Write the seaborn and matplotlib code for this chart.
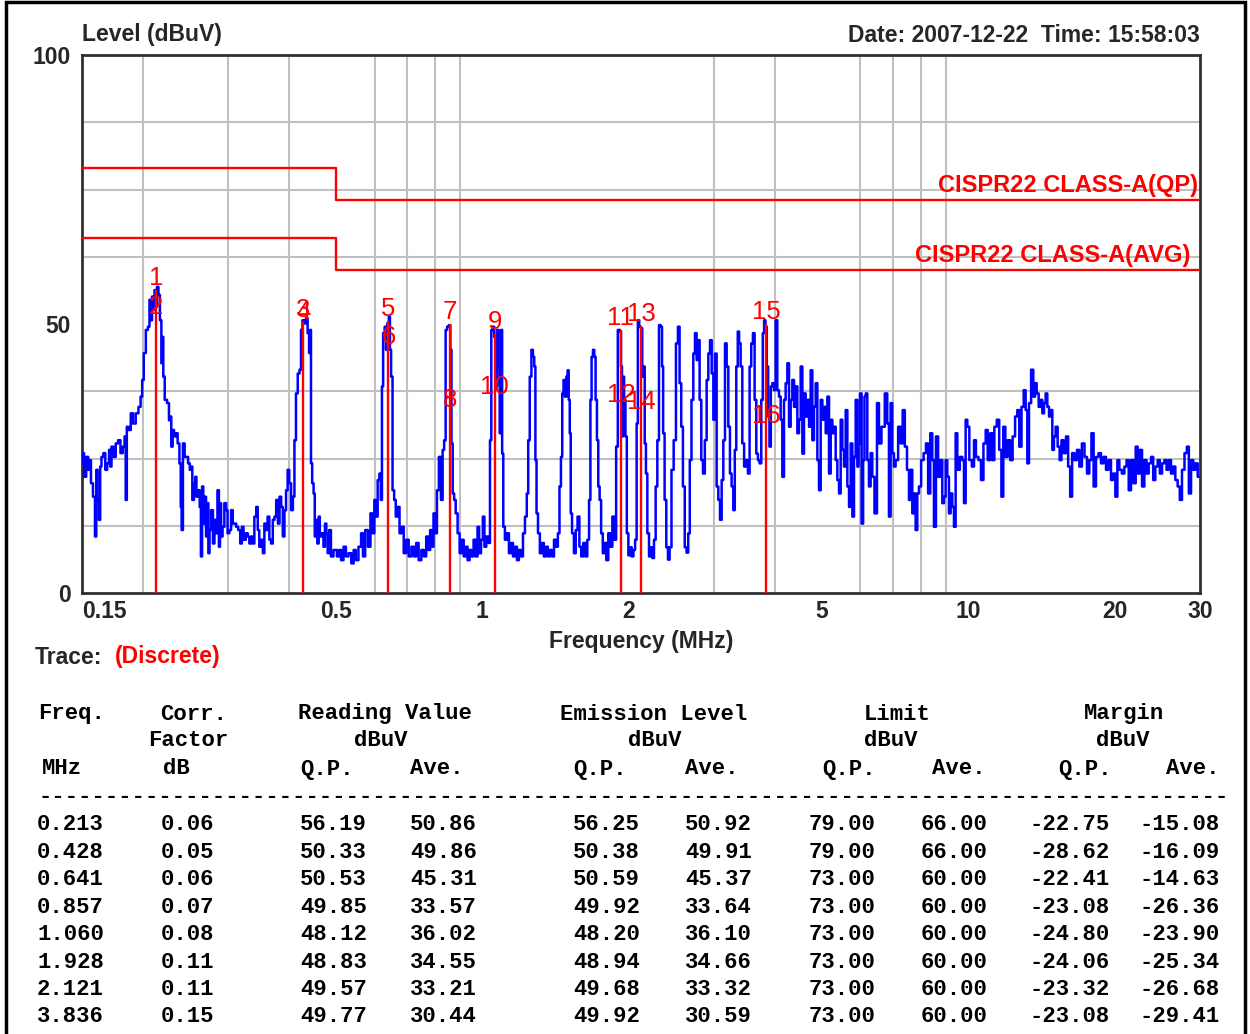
import matplotlib
matplotlib.use("Agg")
import matplotlib.pyplot as plt
import seaborn as sns
import pandas as pd
from matplotlib.patches import Rectangle
from matplotlib.ticker import FixedLocator, NullFormatter

# ---------------- data ----------------
trace_seg_a = [(0.150,24.1),(0.151,26.0),(0.152,21.6),(0.154,25.3),(0.155,22.9),(0.156,24.7),(0.157,20.4),(0.159,17.9),(0.160,10.5),(0.161,22.9),(0.162,17.3),(0.163,13.6),(0.164,23.5),(0.165,25.3),(0.167,26.0),(0.168,22.9),(0.170,24.1),(0.171,26.6),(0.172,23.5),(0.173,27.2),(0.175,25.3),(0.177,27.8),(0.179,28.4),(0.181,26.0),(0.183,27.2),(0.184,29.1),(0.185,17.3),(0.186,30.9),(0.188,30.3),(0.190,33.4),(0.192,31.5),(0.195,33.4),(0.197,34.6),(0.199,36.5),(0.200,39.6),(0.202,44.6),(0.204,48.9),(0.206,49.5),(0.207,54.5),(0.208,50.7),(0.210,55.1),(0.211,52.6),(0.212,56.3),(0.213,53.2),(0.215,56.9),(0.216,55.4),(0.218,50.7),(0.219,42.7),(0.220,47.6),(0.221,40.2),(0.223,35.9),(0.226,35.3),(0.227,32.1),(0.228,32.8),(0.230,27.2),(0.231,30.3),(0.233,29.1),(0.235,29.7),(0.237,27.8),(0.239,24.1),(0.240,16.0),(0.241,11.7),(0.243,27.8),(0.245,25.3),(0.247,25.3),(0.249,24.1),(0.251,22.9),(0.252,23.5),(0.254,17.3),(0.256,20.4),(0.257,21.6),(0.259,17.9),(0.261,19.1),(0.263,16.0),(0.264,6.8),(0.266,19.8),(0.267,12.9),(0.269,17.9),(0.271,10.5),(0.272,16.7),(0.274,7.4),(0.275,11.7),(0.278,15.4),(0.280,9.2),(0.282,13.6),(0.284,11.1),(0.286,19.1),(0.288,8.6),(0.289,16.7),(0.291,10.5),(0.293,12.3),(0.296,16.7),(0.298,15.4),(0.300,11.1),(0.303,11.7),(0.305,15.4),(0.308,12.9),(0.310,12.9),(0.313,12.3),(0.316,11.7),(0.319,9.2),(0.321,12.3),(0.324,9.9),(0.328,11.1),(0.330,10.5),(0.333,9.2),(0.336,10.5),(0.338,9.2),(0.341,14.2),(0.344,16.0),(0.346,11.7),(0.349,8.6),(0.352,9.9),(0.355,7.4),(0.357,12.9),(0.360,11.7),(0.363,14.2),(0.366,9.9),(0.369,9.2),(0.372,13.6),(0.375,14.2),(0.378,17.3),(0.381,12.9),(0.384,17.9),(0.387,16.0),(0.390,10.5),(0.393,15.4),(0.396,19.1),(0.399,22.9),(0.402,20.4),(0.406,15.4),(0.409,17.9),(0.412,28.4),(0.415,37.1),(0.419,40.8),(0.422,41.5),(0.425,48.9),(0.428,50.7),(0.432,50.1),(0.435,51.1),(0.439,48.3),(0.441,44.6),(0.443,48.9),(0.445,24.1),(0.448,20.4),(0.451,18.5),(0.453,10.5),(0.456,13.6),(0.459,9.2),(0.462,14.2),(0.464,10.5),(0.469,11.1),(0.473,8.6),(0.476,12.9),(0.479,11.1),(0.482,7.4),(0.486,11.7),(0.490,6.8),(0.498,8.0),(0.506,6.8)]

trace_seg_b = [(0.509,8.0),(0.515,6.1),(0.521,8.6),(0.527,6.8),(0.534,7.4),(0.541,5.5),(0.546,8.0),(0.552,6.1),(0.560,8.6),(0.566,11.1),(0.570,6.8),(0.578,11.7),(0.585,8.6),(0.592,14.8),(0.597,11.1),(0.602,17.3),(0.606,14.2),(0.612,21.0),(0.616,22.2),(0.620,17.3),(0.623,38.4),(0.627,48.3),(0.632,49.5),(0.635,45.2),(0.640,50.1),(0.644,51.4),(0.647,45.2),(0.651,40.2),(0.656,19.1),(0.661,17.3),(0.666,14.2),(0.672,16.0),(0.679,11.1),(0.685,12.3),(0.693,7.4),(0.701,9.9),(0.710,6.8),(0.719,8.6),(0.727,6.8),(0.735,9.3),(0.744,6.1),(0.754,8.0),(0.762,6.8),(0.771,10.5),(0.778,8.0),(0.784,11.7),(0.790,8.6),(0.797,14.8),(0.803,11.1),(0.810,19.1),(0.818,25.3),(0.826,17.3),(0.831,26.6),(0.838,28.4),(0.843,48.9),(0.850,49.5),(0.857,49.8),(0.862,45.2),(0.866,27.8),(0.872,18.5),(0.878,17.3),(0.885,14.8),(0.894,11.1),(0.902,7.4),(0.911,9.9),(0.920,6.8),(0.928,8.6),(0.937,6.1),(0.946,8.0),(0.955,6.8),(0.964,9.9),(0.974,6.8),(0.981,12.3),(0.989,7.4),(0.999,9.9),(1.006,14.2),(1.014,8.6),(1.024,10.5),(1.034,9.3),(1.040,28.4),(1.047,48.9),(1.055,49.5),(1.061,47.6),(1.068,38.4),(1.077,48.9),(1.083,42.1),(1.089,29.7),(1.096,48.9),(1.101,25.9),(1.108,12.3),(1.118,9.9),(1.129,11.1),(1.140,7.4),(1.151,9.3),(1.162,6.8),(1.173,8.6),(1.184,6.1),(1.195,8.0),(1.207,6.8),(1.218,11.1),(1.230,14.2),(1.239,18.5),(1.247,28.4),(1.257,40.2),(1.267,45.2),(1.275,43.9),(1.283,42.1),(1.289,24.7),(1.297,14.8),(1.307,11.1),(1.320,7.4),(1.332,9.3),(1.345,6.8),(1.358,8.6),(1.371,6.8),(1.384,8.0),(1.398,6.8),(1.411,9.9),(1.425,8.6),(1.436,11.1),(1.447,19.8),(1.456,25.3),(1.465,37.1),(1.474,39.6),(1.484,36.5),(1.494,40.2),(1.502,41.4),(1.510,35.9),(1.517,29.7),(1.524,14.8),(1.536,11.1),(1.551,7.4),(1.563,11.7),(1.578,14.2),(1.590,8.6),(1.606,6.8),(1.621,9.3),(1.637,6.8),(1.652,9.9),(1.665,17.3),(1.673,35.9),(1.684,43.9),(1.695,45.2),(1.705,43.9),(1.716,35.9),(1.727,28.4),(1.738,19.8),(1.749,17.3),(1.763,11.1),(1.777,7.4),(1.791,9.3),(1.808,6.1),(1.825,11.1),(1.843,8.6),(1.861,14.2),(1.878,9.9),(1.893,27.2),(1.908,48.9)]

trace_seg_c = [(1.913,48.9),(1.925,48.6),(1.934,42.1),(1.943,29.1),(1.952,40.2),(1.964,35.9),(1.977,29.1),(1.990,11.1),(2.006,7.0),(2.022,8.5),(2.038,6.8),(2.055,8.0),(2.071,9.9),(2.085,31.5),(2.095,50.7),(2.112,49.5),(2.129,49.2),(2.139,40.2),(2.152,42.1),(2.166,27.8),(2.177,22.2),(2.195,11.1),(2.212,6.8),(2.230,8.5),(2.247,6.5),(2.265,9.9),(2.283,19.8),(2.301,28.4),(2.319,49.8),(2.338,49.5),(2.349,42.1),(2.363,29.7),(2.382,17.3),(2.401,8.5),(2.420,6.2),(2.439,8.5),(2.463,22.9),(2.490,28.4),(2.517,46.4),(2.537,49.5),(2.557,39.0),(2.577,30.9),(2.598,19.8),(2.622,8.5),(2.643,7.5),(2.664,11.1),(2.682,24.7),(2.707,35.9),(2.729,44.5),(2.750,48.3),(2.772,43.3),(2.789,47.0),(2.812,35.9),(2.834,24.7),(2.857,22.2),(2.884,28.4),(2.907,39.6),(2.930,44.5),(2.954,47.0),(2.977,40.8),(3.001,32.2),(3.024,44.5),(3.048,19.8),(3.072,17.3),(3.097,13.6),(3.121,21.0),(3.146,28.4),(3.171,46.4),(3.196,42.1),(3.221,30.9),(3.246,22.2),(3.272,19.8),(3.298,15.4),(3.319,26.6),(3.345,42.1),(3.366,48.6),(3.388,46.4),(3.415,42.1),(3.442,27.8),(3.474,23.5),(3.507,24.7),(3.535,22.2),(3.563,42.1),(3.591,46.4),(3.620,48.3),(3.649,35.9),(3.678,25.9),(3.707,24.7),(3.736,24.1),(3.766,35.9),(3.790,48.3),(3.814,50.7),(3.838,49.5),(3.863,42.1),(3.887,32.8),(3.912,27.2),(3.937,38.4),(3.968,39.0),(3.999,37.7),(4.031,50.7),(4.063,37.7),(4.096,36.5),(4.128,32.2),(4.161,21.6),(4.194,35.9),(4.227,39.0),(4.261,42.7),(4.295,30.9),(4.329,35.9),(4.363,39.6),(4.398,34.6),(4.433,38.4),(4.468,29.7),(4.503,32.2),(4.539,42.1),(4.575,25.9),(4.611,37.1),(4.648,32.8),(4.685,35.9),(4.722,30.9),(4.759,41.4),(4.797,28.4),(4.835,34.6),(4.874,39.0),(4.912,24.7),(4.951,19.1),(4.991,35.9),(5.030,32.2),(5.070,34.6),(5.110,29.7),(5.151,36.5),(5.192,22.2),(5.233,32.2),(5.274,29.7),(5.316,30.9),(5.358,24.7),(5.401,21.0),(5.443,18.5),(5.487,32.2),(5.530,26.6),(5.574,23.5),(5.618,34.0),(5.663,19.8),(5.708,16.0),(5.753,27.8),(5.798,14.2),(5.844,25.3),(5.891,35.9),(5.937,23.5)]

trace_seg_d = [(5.964,27.8),(6.011,37.1),(6.059,12.9),(6.098,24.7),(6.136,36.5),(6.175,37.1),(6.224,24.7),(6.273,19.8),(6.323,26.0),(6.373,21.6),(6.455,14.8),(6.526,35.3),(6.578,27.8),(6.682,30.9),(6.788,37.1),(6.842,31.5),(6.897,14.2),(6.951,35.3),(7.006,26.0),(7.062,23.5),(7.118,24.7),(7.232,30.9),(7.290,27.8),(7.371,34.0),(7.441,27.2),(7.524,22.9),(7.583,17.3),(7.643,22.9),(7.703,14.8),(7.765,18.5),(7.826,11.7),(7.888,18.5),(7.951,19.8),(8.052,24.7),(8.141,26.0),(8.232,27.8),(8.310,18.5),(8.402,29.7),(8.469,24.7),(8.536,12.3),(8.631,29.1),(8.713,21.6),(8.810,24.7),(8.881,16.7),(8.951,17.9),(9.021,24.7),(9.093,21.6),(9.166,14.8),(9.239,18.5),(9.312,16.0),(9.386,12.3),(9.460,29.7),(9.536,22.9),(9.688,25.3),(9.764,24.7),(9.842,16.7),(9.920,32.2),(9.999,30.9),(10.11,24.7),(10.24,23.5),(10.32,28.4),(10.43,25.3),(10.57,24.7),(10.68,21.0),(10.82,27.8),(10.91,30.3),(11.03,24.7),(11.17,29.7),(11.26,24.7),(11.38,30.9),(11.52,32.2),(11.65,26.6),(11.76,17.9),(11.86,30.9),(11.99,25.3),(12.12,28.4),(12.28,24.7),(12.41,29.1),(12.57,32.8),(12.67,34.0),(12.81,27.2),(12.94,34.6),(13.08,37.7),(13.18,34.0),(13.29,24.1),(13.39,35.3),(13.56,41.5),(13.67,36.5),(13.78,39.0),(13.89,37.1),(14.04,34.6),(14.15,35.9),(14.27,33.4),(14.38,35.3),(14.49,37.1),(14.61,34.6),(14.73,32.8),(14.84,34.0),(14.96,26.6),(15.07,29.1),(15.20,30.9),(15.36,27.2),(15.49,24.7),(15.63,28.4),(15.81,26.0),(15.98,29.1),(16.14,23.5),(16.29,17.9),(16.44,26.0),(16.65,24.7),(16.84,26.6),(17.03,23.5),(17.25,27.8),(17.46,25.3),(17.66,22.2),(17.85,24.7),(18.02,29.7),(18.22,19.8),(18.43,25.3),(18.66,26.0),(18.87,24.1),(19.11,25.3),(19.32,22.9),(19.57,24.7),(19.78,21.0),(19.97,22.2),(20.20,17.9),(20.36,24.7),(20.58,22.9),(20.85,22.2),(21.08,23.5),(21.28,24.7),(21.52,19.1),(21.75,24.7),(22.03,20.4),(22.21,27.2),(22.45,22.2),(22.67,26.6),(22.92,19.8),(23.17,24.7),(23.39,22.2),(23.66,24.1),(23.92,25.3),(24.14,21.0),(24.41,23.5),(24.68,24.7),(24.92,22.2),(25.20,24.1),(25.48,24.7),(25.72,22.9),(26.01,24.7),(26.29,22.2),(26.54,23.5),(26.84,21.0),(27.13,19.8),(27.39,17.3),(27.70,22.9),(28.05,26.0),(28.32,27.2),(28.59,18.5),(28.92,24.7),(29.20,22.9),(29.51,24.1),(29.84,21.6)]

limit_freq = [0.15, 0.5, 0.5, 30]
limit_qp = [79, 79, 73, 73]
limit_avg = [66, 66, 60, 60]

table_freq = [0.213, 0.428, 0.641, 0.857, 1.060, 1.928, 2.121, 3.836]
corr_factor = [0.06, 0.05, 0.06, 0.07, 0.08, 0.11, 0.11, 0.15]
read_qp = [56.19, 50.33, 50.53, 49.85, 48.12, 48.83, 49.57, 49.77]
read_ave = [50.86, 49.86, 45.31, 33.57, 36.02, 34.55, 33.21, 30.44]
emis_qp = [56.25, 50.38, 50.59, 49.92, 48.20, 48.94, 49.68, 49.92]
emis_ave = [50.92, 49.91, 45.37, 33.64, 36.10, 34.66, 33.32, 30.59]
lim_qp_col = [79.00, 79.00, 73.00, 73.00, 73.00, 73.00, 73.00, 73.00]
lim_ave_col = [66.00, 66.00, 60.00, 60.00, 60.00, 60.00, 60.00, 60.00]
margin_qp = [-22.75, -28.62, -22.41, -23.08, -24.80, -24.06, -23.32, -23.08]
margin_ave = [-15.08, -16.09, -14.63, -26.36, -23.90, -25.34, -26.68, -29.41]

x_tick_vals = [0.15, 0.5, 1, 2, 5, 10, 20, 30]
x_tick_labels = ['0.15', '0.5', '1', '2', '5', '10', '20', '30']
x_grid_vals = [0.2, 0.3, 0.4, 0.5, 0.6, 0.7, 0.8, 0.9, 1, 2, 3, 4, 5, 6, 7, 8, 9, 10, 20]
y_tick_vals = [0, 50, 100]
y_grid_vals = [12.5, 25, 37.5, 50, 62.5, 75, 87.5]

# ---------------- style ----------------
sns.set_style("white")
plt.rcParams['font.family'] = ['Liberation Sans', 'DejaVu Sans']

W, H = 1250, 1034
fig = plt.figure(figsize=(W / 100, H / 100), dpi=100)
fig.patch.set_facecolor('white')
ax = fig.add_axes([82 / W, 1 - 593 / H, (1200 - 82) / W, (593 - 55) / H])
ax.set_xscale('log')

RED = '#FF0000'
BLUE = '#0000FF'
GRID = '#C0C0C0'
TXT = 16.5

trace = pd.DataFrame(trace_seg_a + trace_seg_b + trace_seg_c + trace_seg_d,
                     columns=['freq', 'level'])
sns.lineplot(data=trace, x='freq', y='level', ax=ax, color=BLUE, lw=1.8,
             estimator=None, sort=False, drawstyle='steps-mid', zorder=3)

sns.lineplot(x=limit_freq, y=limit_qp, ax=ax, color=RED, lw=1.7,
             estimator=None, sort=False, zorder=4)
sns.lineplot(x=limit_freq, y=limit_avg, ax=ax, color=RED, lw=1.7,
             estimator=None, sort=False, zorder=4)

ax.vlines(table_freq, 0, emis_qp, color=RED, lw=1.7, zorder=5)
for i, f in enumerate(table_freq):
    ax.annotate(str(2 * i + 1), (f, emis_qp[i]), xytext=(0, 0), textcoords='offset points',
                ha='center', va='bottom', color=RED, fontsize=18.5, zorder=6)
    ax.annotate(str(2 * i + 2), (f, emis_ave[i]), xytext=(0, 0), textcoords='offset points',
                ha='center', va='bottom', color=RED, fontsize=18.5, zorder=6)

ax.text(29.7, 73.6, 'CISPR22 CLASS-A(QP)', ha='right', va='bottom', color=RED,
        fontsize=17, fontweight='bold', zorder=6)
ax.text(28.6, 60.6, 'CISPR22 CLASS-A(AVG)', ha='right', va='bottom', color=RED,
        fontsize=17, fontweight='bold', zorder=6)

ax.set_xlim(0.15, 30)
ax.set_ylim(0, 100)
ax.xaxis.set_major_locator(FixedLocator(x_tick_vals))
ax.set_xticklabels(x_tick_labels)
ax.xaxis.set_minor_locator(FixedLocator(x_grid_vals))
ax.xaxis.set_minor_formatter(NullFormatter())
ax.yaxis.set_major_locator(FixedLocator(y_tick_vals))
ax.set_yticklabels([str(v) for v in y_tick_vals])
ax.yaxis.set_minor_locator(FixedLocator(y_grid_vals))
ax.yaxis.set_minor_formatter(NullFormatter())
ax.grid(False, which='major')
ax.grid(True, which='minor', color=GRID, lw=1.5, zorder=0)
ax.set_axisbelow(True)
ax.tick_params(which='both', length=0)
ax.tick_params(axis='x', pad=5, labelsize=TXT)
ax.tick_params(axis='y', pad=8, labelsize=TXT)
for lab in ax.get_xticklabels() + ax.get_yticklabels():
    lab.set_fontweight('bold')
ax.get_xticklabels()[0].set_horizontalalignment('left')
for s in ax.spines.values():
    s.set_color('#303030')
    s.set_linewidth(2)
ax.set_xlabel('Frequency (MHz)', fontsize=TXT, fontweight='bold', labelpad=5)
ax.set_ylabel('')


def ftext(x, y, s, ha='left', **kw):
    fig.text(x / W, 1 - y / H, s, ha=ha, va='center', **kw)


ftext(82, 35, 'Level (dBuV)', fontsize=TXT, fontweight='bold')
ftext(1200, 35, 'Date: 2007-12-22  Time: 15:58:03', ha='right', fontsize=TXT, fontweight='bold')
ftext(35, 657, 'Trace:', fontsize=TXT, fontweight='bold')
ftext(115, 657, '(Discrete)', fontsize=TXT, fontweight='bold', color=RED)

mono = dict(family='Liberation Mono', fontweight='bold', fontsize=16, color='black')
for x, s in [(38, 'Freq.'), (160, 'Corr.'), (298, 'Reading Value'), (560, 'Emission Level'),
             (864, 'Limit'), (1084, 'Margin')]:
    ftext(x, 714, s, **mono)
for x, s in [(148, 'Factor'), (354, 'dBuV'), (628, 'dBuV'), (864, 'dBuV'), (1096, 'dBuV')]:
    ftext(x, 741, s, **mono)
for x, s in [(42, 'MHz'), (163, 'dB'), (300, 'Q.P.'), (410, 'Ave.'), (573, 'Q.P.'), (685, 'Ave.'),
             (822, 'Q.P.'), (932, 'Ave.'), (1058, 'Q.P.'), (1166, 'Ave.')]:
    ftext(x, 769, s, **mono)
ftext(38, 796, '-' * 89, **mono)

right_edges = [104, 214, 367, 477, 640, 752, 875, 987, 1110, 1220]
columns = [table_freq, corr_factor, read_qp, read_ave, emis_qp, emis_ave,
           lim_qp_col, lim_ave_col, margin_qp, margin_ave]
for r in range(len(table_freq)):
    y = 825 + r * 27.4
    for c, (col, xr) in enumerate(zip(columns, right_edges)):
        s = f"{col[r]:.3f}" if c == 0 else f"{col[r]:.2f}"
        ftext(xr, y, s, ha='right', **mono)

fig.patches.append(Rectangle((6 / W, -0.02), (1245 - 6) / W, 1.02 - 2 / H,
                             transform=fig.transFigure, fill=False,
                             edgecolor='black', lw=2.5, zorder=10))

fig.savefig('out.png', dpi=100, facecolor='white')
